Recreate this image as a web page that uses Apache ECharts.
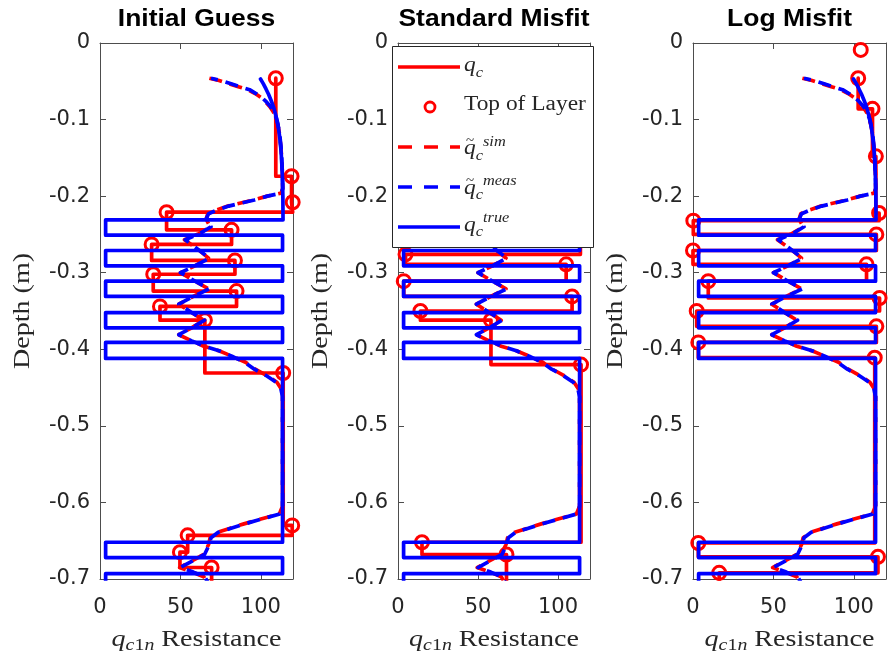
<!DOCTYPE html>
<html>
<head>
<meta charset="utf-8">
<script src="https://cdn.jsdelivr.net/npm/echarts@6/dist/echarts.min.js"></script>
<style>
html, body { margin: 0; padding: 0; background: #ffffff; }
#chart { width: 888px; height: 658px; }
</style>
</head>
<body>
<div id="chart"></div>
<script>
// ---- chart data -------------------------------------------------------
const panelTitles = ['Initial Guess', 'Standard Misfit', 'Log Misfit'];
const xTickValues = [0, 50, 100];
const xTickLabels = ['0', '50', '100'];
const depthTickValues = [0, -0.1, -0.2, -0.3, -0.4, -0.5, -0.6, -0.7];
const depthTickLabels = ['0', '-0.1', '-0.2', '-0.3', '-0.4', '-0.5', '-0.6', '-0.7'];

// true cone resistance profile (q_c^true)
const trueQ = [99.8, 101.5, 103.2, 104.8, 106.4, 107.8, 109.0, 110.2, 111.1, 111.9, 112.6, 113.1, 113.5, 113.7, 113.8,
  3.5, 3.5, 113.5, 113.5, 3.5, 3.5, 113.5, 113.5, 3.5, 3.5, 113.5, 113.5, 3.5, 3.5, 113.5, 113.5, 3.5, 3.5, 113.5,
  113.5, 3.5, 3.5, 113.5, 113.5, 3.5, 3.5];
const trueD = [-0.047, -0.053, -0.060, -0.067, -0.075, -0.083, -0.092, -0.102, -0.113, -0.126, -0.142, -0.160, -0.180, -0.200, -0.231,
  -0.231, -0.251, -0.251, -0.271, -0.271, -0.291, -0.291, -0.311, -0.311, -0.331, -0.331, -0.352, -0.352, -0.372, -0.372, -0.391, -0.391, -0.412, -0.412,
  -0.652, -0.652, -0.672, -0.672, -0.693, -0.693, -0.713];

// measured (filtered) resistance
const measQ = [69, 75, 81, 87, 93, 97, 100.5, 103.5, 106, 108, 109.6, 110.8, 111.8, 112.5, 113.0, 113.4, 113.6,
  112.8, 104, 96, 88, 80, 73, 67.5, 66, 69, 62, 53, 60, 68, 59, 50, 59, 68, 58, 49, 57, 65, 57, 49, 57, 65,
  74, 82, 90, 96, 103, 109.5, 112.5, 113.5, 113.5, 111.8, 100, 90, 81, 73.5, 69, 68, 65, 57, 50, 58, 65, 67];
const measD = [-0.046, -0.049, -0.053, -0.057, -0.061, -0.066, -0.071, -0.077, -0.083, -0.090, -0.098, -0.108, -0.120, -0.135, -0.150, -0.170, -0.190,
  -0.196, -0.200, -0.205, -0.209, -0.213, -0.218, -0.223, -0.230, -0.240, -0.249, -0.257, -0.268, -0.281, -0.291, -0.300, -0.311, -0.321, -0.331, -0.341, -0.352, -0.362, -0.372, -0.381, -0.389, -0.396,
  -0.402, -0.409, -0.417, -0.426, -0.434, -0.443, -0.452, -0.462, -0.605, -0.615, -0.622, -0.628, -0.634, -0.639, -0.646, -0.655, -0.668, -0.677, -0.685, -0.691, -0.697, -0.704];

// simulated resistance
const simQ = [68, 74, 80, 86, 92, 96.5, 100, 103, 105.5, 107.8, 109.4, 110.7, 111.7, 112.4, 113.0, 113.4, 113.6,
  112.6, 104, 95.5, 87.5, 79.5, 72.5, 67, 66, 68.5, 61.5, 52.5, 60, 67.5, 59, 50, 59, 67.5, 58, 49, 57, 64.5, 57, 49, 57, 64.5,
  74, 82, 90.5, 96.5, 103.5, 110, 112.8, 113.5, 113.5, 111.5, 99.5, 89.5, 80.5, 73, 68.5, 67.5, 64.5, 56.5, 49.5, 57.5, 64.5, 66.5];
const simD = measD;

// estimated layer profiles: top-of-layer resistance and depth
const layerQInitial = [109.3, 119.1, 119.8, 41.4, 81.8, 32.1, 83.9, 33.1, 84.9, 37.3, 65.2, 113.9, 119.5, 54.5, 49.7, 69.4];
const layerDInitial = [-0.046, -0.174, -0.208, -0.221, -0.244, -0.263, -0.284, -0.302, -0.324, -0.344, -0.362, -0.431, -0.630, -0.643, -0.665, -0.685];
const layerQStandard = [109.0, 114.0, 4.7, 105.1, 3.6, 108.8, 14.0, 58.1, 114.4, 15.0, 67.8];
const layerDStandard = [-0.046, -0.200, -0.276, -0.289, -0.311, -0.331, -0.350, -0.362, -0.420, -0.652, -0.668];
const layerQLog = [104.3, 102.7, 111.6, 113.7, 115.7, 0.2, 114.0, 0.0, 107.9, 9.5, 116.0, 2.3, 114.0, 3.3, 113.0, 3.3, 115.0, 16.3];
const layerDLog = [-0.009, -0.046, -0.086, -0.148, -0.222, -0.232, -0.250, -0.271, -0.289, -0.311, -0.333, -0.350, -0.370, -0.391, -0.411, -0.653, -0.671, -0.692];

const profileTop = -0.046;   // first depth reached by the cone
const profileBottom = -0.72; // beyond the plotted depth

// ---- helpers ----------------------------------------------------------
function pairs(q, d) { return q.map((v, i) => [v, d[i]]); }

// step profile: each layer keeps its resistance down to the next layer top
function stairs(q, d) {
  const pts = [];
  for (let i = 0; i < q.length; i++) {
    if (d[i] > profileTop + 1e-9) continue;
    const next = i + 1 < q.length ? d[i + 1] : profileBottom;
    pts.push([q[i], d[i]], [q[i], next]);
  }
  return pts;
}

// ---- layout -----------------------------------------------------------
const grids = [
  { left: 100, top: 43, width: 193, height: 536 },
  { left: 398, top: 43, width: 192, height: 536 },
  { left: 693, top: 43, width: 193, height: 536 }
];
const layers = [
  [layerQInitial, layerDInitial],
  [layerQStandard, layerDStandard],
  [layerQLog, layerDLog]
];
const RED = '#ff0000', BLUE = '#0000ff';
const frameColor = '#4d4d4d', labelColor = '#262626';
const serifStretch = 1.17;
const lineW = 3.7;

const xAxes = [], yAxes = [], series = [], graphics = [];

grids.forEach((g, i) => {
  const tick = { show: true, inside: true, length: 6, lineStyle: { color: frameColor, width: 1 } };
  const line = { show: true, onZero: false, lineStyle: { color: frameColor, width: 1 } };
  xAxes.push({
    gridIndex: i, type: 'value', position: 'bottom', min: 0, max: 120, interval: 50,
    axisLine: line, axisTick: tick, splitLine: { show: false },
    axisLabel: {
      show: true, margin: 18, color: labelColor, fontSize: 21, fontFamily: 'DejaVu Sans',
      showMaxLabel: false,
      formatter: v => { const k = xTickValues.indexOf(v); return k >= 0 ? xTickLabels[k] : ''; }
    }
  });
  xAxes.push({
    gridIndex: i, type: 'value', position: 'top', min: 0, max: 120, interval: 50,
    axisLine: line, axisTick: tick, splitLine: { show: false }, axisLabel: { show: false }
  });
  yAxes.push({
    gridIndex: i, type: 'value', position: 'left', min: -0.7, max: 0, interval: 0.1,
    axisLine: line, axisTick: tick, splitLine: { show: false },
    axisLabel: {
      show: true, margin: 10, color: labelColor, fontSize: 21, fontFamily: 'DejaVu Sans',
      formatter: v => {
        const k = depthTickValues.findIndex(t => Math.abs(t - v) < 1e-6);
        return k >= 0 ? depthTickLabels[k] : '';
      }
    }
  });
  yAxes.push({
    gridIndex: i, type: 'value', position: 'right', min: -0.7, max: 0, interval: 0.1,
    axisLine: line, axisTick: tick, splitLine: { show: false }, axisLabel: { show: false }
  });

  const ax = { xAxisIndex: 2 * i, yAxisIndex: 2 * i };
  const [lq, ld] = layers[i];
  series.push({
    type: 'line', name: 'qc', ...ax, data: stairs(lq, ld), symbol: 'none', z: 2,
    lineStyle: { color: RED, width: lineW, cap: 'round', join: 'round' }
  });
  series.push({
    type: 'scatter', name: 'Top of Layer', ...ax, data: pairs(lq, ld), symbol: 'circle', symbolSize: 13,
    clip: false, z: 3,
    itemStyle: { color: 'rgba(0,0,0,0)', borderColor: RED, borderWidth: 3, opacity: 1 }
  });
  series.push({
    type: 'line', name: 'sim', ...ax, data: pairs(simQ, simD), symbol: 'none', z: 4,
    lineStyle: { color: RED, width: lineW, type: [13, 8], cap: 'butt', join: 'round' }
  });
  series.push({
    type: 'line', name: 'meas', ...ax, data: pairs(measQ, measD), symbol: 'none', z: 5,
    lineStyle: { color: BLUE, width: lineW, type: [13, 8], dashOffset: 6, cap: 'butt', join: 'round' }
  });
  series.push({
    type: 'line', name: 'true', ...ax, data: pairs(trueQ, trueD), symbol: 'none', z: 6,
    lineStyle: { color: BLUE, width: lineW, cap: 'round', join: 'round' }
  });

  const cx = g.left + g.width / 2;
  // panel title
  graphics.push({
    type: 'text', x: cx, y: 20, scaleX: 1.15, z: 100,
    style: {
      text: panelTitles[i], font: 'bold 23px "Liberation Sans"', fill: '#000000',
      align: 'center', verticalAlign: 'middle', textAlign: 'center', textVerticalAlign: 'middle'
    }
  });
  // x axis name
  graphics.push({
    type: 'text', x: cx, y: 640, scaleX: serifStretch, z: 100,
    style: {
      text: '{q|q}{s|c}{u|1}{s|n}{r| Resistance}',
      align: 'center', verticalAlign: 'middle', textAlign: 'center', textVerticalAlign: 'middle',
      fill: labelColor,
      rich: {
        q: { fontFamily: 'Liberation Serif', fontStyle: 'italic', fontSize: 24, lineHeight: 28, fill: labelColor, color: labelColor },
        s: { fontFamily: 'Liberation Serif', fontStyle: 'italic', fontSize: 17, lineHeight: 15, verticalAlign: 'bottom', fill: labelColor, color: labelColor },
        u: { fontFamily: 'Liberation Serif', fontSize: 17, lineHeight: 15, verticalAlign: 'bottom', fill: labelColor, color: labelColor },
        r: { fontFamily: 'Liberation Serif', fontSize: 24, lineHeight: 28, fill: labelColor, color: labelColor }
      }
    }
  });
  // y axis name
  graphics.push({
    type: 'text', x: g.left - 77, y: g.top + g.height / 2, rotation: Math.PI / 2, scaleX: serifStretch, z: 100,
    style: {
      text: 'Depth (m)', font: '24px "Liberation Serif"', fill: labelColor,
      align: 'center', verticalAlign: 'middle', textAlign: 'center', textVerticalAlign: 'middle'
    }
  });
});

// ---- legend box inside the middle panel --------------------------------
const legendRows = [67, 107, 147, 187, 227];
const lgX0 = 398, lgX1 = 460, lgText = 464;
graphics.push({
  type: 'rect', z: 100, shape: { x: 392.5, y: 46.5, width: 201, height: 201 },
  style: { fill: '#ffffff', stroke: '#262626', lineWidth: 1 }
});
graphics.push({ type: 'line', z: 101, shape: { x1: lgX0, y1: legendRows[0], x2: lgX1, y2: legendRows[0] },
  style: { stroke: RED, lineWidth: lineW } });
graphics.push({ type: 'circle', z: 101, shape: { cx: 430, cy: legendRows[1], r: 5 },
  style: { fill: 'rgba(0,0,0,0)', stroke: RED, lineWidth: 2.8 } });
graphics.push({ type: 'line', z: 101, shape: { x1: lgX0, y1: legendRows[2], x2: lgX1, y2: legendRows[2] },
  style: { stroke: RED, lineWidth: lineW, lineDash: [14, 12] } });
graphics.push({ type: 'line', z: 101, shape: { x1: lgX0, y1: legendRows[3], x2: lgX1, y2: legendRows[3] },
  style: { stroke: BLUE, lineWidth: lineW, lineDash: [14, 12] } });
graphics.push({ type: 'line', z: 101, shape: { x1: lgX0, y1: legendRows[4], x2: lgX1, y2: legendRows[4] },
  style: { stroke: BLUE, lineWidth: lineW } });

const legendRich = {
  q: { fontFamily: 'Liberation Serif', fontStyle: 'italic', fontSize: 20, lineHeight: 28, fill: labelColor, color: labelColor },
  b: { fontFamily: 'Liberation Serif', fontStyle: 'italic', fontSize: 14, lineHeight: 14, verticalAlign: 'bottom', fill: labelColor, color: labelColor },
  p: { fontFamily: 'Liberation Serif', fontStyle: 'italic', fontSize: 14, lineHeight: 14, verticalAlign: 'top', fill: labelColor, color: labelColor }
};
function legendText(text, y) {
  return {
    type: 'text', z: 101, x: lgText, y: y, scaleX: serifStretch,
    style: { text: text, rich: legendRich, fill: labelColor, align: 'left', verticalAlign: 'middle', textAlign: 'left', textVerticalAlign: 'middle' }
  };
}
function tilde(y) {
  return {
    type: 'text', z: 101, x: lgText + 2, y: y,
    style: { text: '~', font: '15px "Liberation Serif"', fill: labelColor, align: 'left', verticalAlign: 'middle' }
  };
}
graphics.push(legendText('{q|q}{b|c}', 66));
graphics.push({
  type: 'text', z: 101, x: lgText, y: 105, scaleX: serifStretch,
  style: { text: 'Top of Layer', font: '20px "Liberation Serif"', fill: labelColor, align: 'left', verticalAlign: 'middle' }
});
graphics.push(legendText('{q|q}{b|c}{p|sim}', 149));
graphics.push(tilde(141));
graphics.push(legendText('{q|q}{b|c}{p|meas}', 188.5));
graphics.push(tilde(181));
graphics.push(legendText('{q|q}{b|c}{p|true}', 225.5));

const chart = echarts.init(document.getElementById('chart'), null, { renderer: 'canvas' });
chart.setOption({
  animation: false,
  backgroundColor: '#ffffff',
  grid: grids.map(g => ({ ...g, containLabel: false })),
  xAxis: xAxes,
  yAxis: yAxes,
  series: series,
  graphic: { elements: graphics }
});
</script>
</body>
</html>
